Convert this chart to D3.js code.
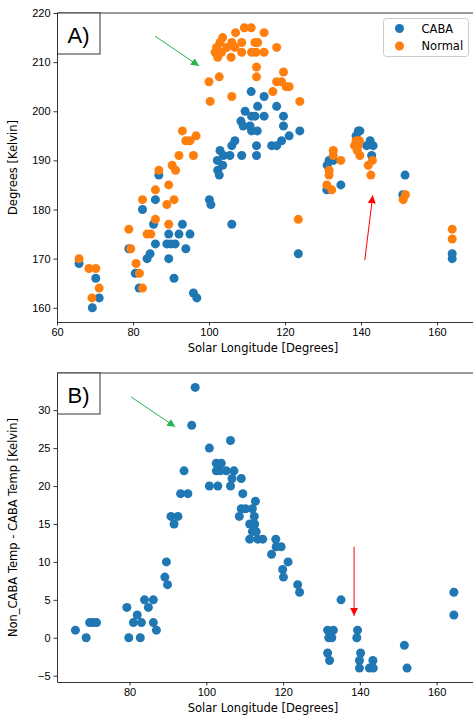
<!DOCTYPE html>
<html>
<head>
<meta charset="utf-8">
<script src="https://cdn.jsdelivr.net/npm/d3@7"></script>
<style>
  body { margin: 0; background: #fff; }
  svg { font-family: "DejaVu Sans", sans-serif; }
  .tick text { font-size: 11px; fill: #000; }
  .tick line, .domain { stroke: #000; stroke-width: 0.8; }
</style>
</head>
<body>
<svg id="chart" width="473" height="720"></svg>
<script>
// solar longitude / temperature pairs
const cabaPoints = [
  [65.8,169],[70.2,166],[69.3,160],[71.1,162],[78.9,172],[80.6,167],[81.6,164],[82.5,180],[83.7,170],[84.5,171],
  [85.9,173],[85.4,177],[85.9,182],[86.8,187],[88.9,173],[90.0,173],[91.1,173],[89.4,175],[89.4,170],[92.1,175],
  [93.0,177],[93.9,172],[95.0,175],[90.8,166],[95.9,163],[96.8,162],[100.1,182],[100.5,181],
  [111.1,204],[114.5,203],[112.8,201],[117.8,201],[109.5,200],[111.2,199],[112.1,199],[114.5,199],[119.6,199],
  [108.4,198],[109.0,197],[110.8,197],[119.6,197],[111.2,196],[112.7,196],[123.9,196],[121.1,195],[119.1,194],
  [116.5,193],[117.8,193],[112.5,193],[106.8,194],[106.0,193],[102.9,192],[103.8,191],[105.5,191],[108.6,191],
  [112.5,191],[102.2,190],[103.6,189],[102.3,188],[102.7,187],[106.0,177],[123.5,171],
  [139.3,196],[139.7,196],[138.7,195],[142.4,194],[141.5,193],[143.2,193],[142.8,191],[131.6,190],[132.7,190],
  [131.1,189],[131.0,184],[134.7,185],[151.6,187],[151.0,183],[164.0,171],[164.0,170]
];
const normalPoints = [
  [65.8,170],[68.4,168],[70.2,168],[71.1,164],[69.2,162],[78.9,176],[79.4,172],[80.8,169],[81.7,167],[82.5,164],
  [82.5,182],[83.7,175],[84.7,175],[85.9,178],[85.9,184],[86.8,188],[88.9,181],[89.4,177],[89.4,185],[90.8,182],
  [90.3,189],[91.2,188],[93.0,196],[93.9,194],[95.0,194],[96.6,195],[92.1,191],[95.9,191],[100.0,206],[100.3,202],
  [103.6,215],[107.0,216],[109.3,217],[111.1,217],[114.5,216],[102.9,214],[106.0,214],[108.6,214],[112.1,214],
  [112.8,214],[102.0,213],[104.7,213],[106.8,213],[117.8,213],[101.6,212],[103.3,212],[108.6,212],[111.2,212],
  [112.4,212],[114.5,212],[102.3,211],[105.8,211],[112.5,209],[112.5,207],[119.6,208],[102.7,207],[117.8,206],
  [119.1,206],[116.8,204],[120.3,205],[121.1,205],[106.0,203],[123.9,202],[123.5,178],
  [138.7,194],[139.6,194],[138.3,193],[139.3,193],[139.0,192],[139.7,191],[141.9,189],[143.0,190],[142.6,187],
  [132.7,192],[132.7,191],[134.7,190],[131.6,188],[131.6,187],[131.0,185],[132.3,184],[151.7,183],[151.1,182],
  [164.0,176],[164.0,174]
];
const diffPoints = [
  [65.9,1],[68.7,0],[69.6,2],[70.4,2],[71.4,2],[79.3,4],[79.8,0],[81.0,2],[82.0,3],[83.1,2],[82.8,0],[83.9,5],
  [84.9,4],[86.2,5],[86.2,2],[87.0,1],[89.2,8],[89.6,10],[89.9,7],[90.8,16],[92.6,16],[91.6,15],[93.3,19],
  [95.2,19],[94.2,22],[96.2,28],[97.1,33],[100.8,25],[100.8,20],[103.0,20],[102.6,23],[103.9,23],[102.6,22],
  [103.6,22],[105.2,22],[107.2,22],[106.3,26],[106.3,20],[106.7,21],[109.1,21],[109.5,19],[112.8,18],[109.1,17],
  [110.2,17],[112.0,17],[108.6,16],[112.5,16],[111.3,15],[112.6,15],[112.0,14],[113.0,14],[111.3,13],[113.4,13],
  [114.7,13],[118.1,13],[118.2,12],[119.5,12],[117.0,11],[121.3,10],[119.9,9],[120.1,8],[123.8,7],[124.3,6],
  [131.6,1],[133.1,1],[131.9,0],[132.7,0],[131.6,-2],[132.1,-3],[135.1,5],[139.4,1],[139.2,0],[140.2,-2],
  [139.9,-3],[139.9,-4],[142.5,-4],[143.5,-4],[143.4,-3],[151.6,-1],[152.3,-4],[164.5,6],[164.5,3]
];
const xTicksTop = [60, 80, 100, 120, 140, 160];
const xTicksBottom = [80, 100, 120, 140, 160];
const yTicksTop = [160, 170, 180, 190, 200, 210, 220];
const yTicksBottom = [-5, 0, 5, 10, 15, 20, 25, 30];
const seriesNames = ["CABA", "Normal"];
const seriesColors = ["#1f77b4", "#ff7f0e"];

const svg = d3.select("#chart");

const defs = svg.append("defs");
[["head-green", "#2bb44e"], ["head-red", "#ff0000"]].forEach(([id, c]) => {
  defs.append("marker")
    .attr("id", id)
    .attr("viewBox", "0 0 10 10")
    .attr("refX", 10).attr("refY", 5)
    .attr("markerWidth", 8).attr("markerHeight", 8)
    .attr("markerUnits", "userSpaceOnUse")
    .attr("orient", "auto")
    .append("path")
    .attr("d", "M0,0 L10,5 L0,10 z")
    .attr("fill", c);
});

function panel(opt) {
  const x = d3.scaleLinear().domain(opt.xDomain).range([57, 475]);
  const y = d3.scaleLinear().domain(opt.yDomain).range([opt.bottom, opt.top]);
  const g = svg.append("g");

  g.append("line").attr("x1", 57).attr("x2", 475).attr("y1", opt.top).attr("y2", opt.top)
    .attr("stroke", "#000").attr("stroke-width", 0.8);

  g.append("g")
    .attr("transform", `translate(0,${opt.bottom})`)
    .call(d3.axisBottom(x).tickValues(opt.xTicks).tickSize(3.5).tickPadding(3).tickSizeOuter(0));
  g.append("g")
    .attr("transform", "translate(57,0)")
    .call(d3.axisLeft(y).tickValues(opt.yTicks).tickSize(3.5).tickPadding(3).tickSizeOuter(0));

  g.append("text")
    .attr("x", 263).attr("y", opt.bottom + 30)
    .attr("text-anchor", "middle").attr("font-size", 11.5)
    .text("Solar Longitude [Degrees]");
  g.append("text")
    .attr("transform", `translate(17,${(opt.top + opt.bottom) / 2}) rotate(-90)`)
    .attr("text-anchor", "middle").attr("font-size", 11.5)
    .text(opt.yLabel);

  opt.series.forEach(s => {
    g.append("g").selectAll("circle")
      .data(s.data)
      .join("circle")
      .attr("cx", d => x(d[0]))
      .attr("cy", d => y(d[1]))
      .attr("r", 4.5)
      .attr("fill", s.color);
  });

  opt.arrows.forEach(a => {
    g.append("line")
      .attr("x1", x(a[0])).attr("y1", y(a[1]))
      .attr("x2", x(a[2])).attr("y2", y(a[3]))
      .attr("stroke", a[4]).attr("stroke-width", 1)
      .attr("marker-end", `url(#${a[5]})`);
  });

  // panel label box
  g.append("rect")
    .attr("x", 57.5).attr("y", opt.top)
    .attr("width", 42.5).attr("height", 41)
    .attr("fill", "#fff").attr("stroke", "#333").attr("stroke-width", 1);
  g.append("text")
    .attr("x", 78.5).attr("y", opt.top + 30)
    .attr("text-anchor", "middle").attr("font-size", 22)
    .attr("font-family", "Liberation Sans, Arial, sans-serif")
    .text(opt.label);
  return g;
}

panel({
  top: 13, bottom: 322,
  xDomain: [60, 170], yDomain: [157.1, 220],
  xTicks: xTicksTop, yTicks: yTicksTop,
  yLabel: "Degrees [Kelvin]", label: "A)",
  series: [
    { data: cabaPoints, color: seriesColors[0] },
    { data: normalPoints, color: seriesColors[1] }
  ],
  arrows: [
    [85.8, 215.3, 97.4, 209.2, "#2bb44e", "head-green"],
    [141.0, 169.7, 143.1, 182.9, "#ff0000", "head-red"]
  ]
});

panel({
  top: 373, bottom: 682,
  xDomain: [61.1, 170], yDomain: [-5.83, 34.9],
  xTicks: xTicksBottom, yTicks: yTicksBottom,
  yLabel: "Non_CABA Temp - CABA Temp [Kelvin]", label: "B)",
  series: [{ data: diffPoints, color: seriesColors[0] }],
  arrows: [
    [80.4, 31.75, 91.9, 27.8, "#2bb44e", "head-green"],
    [138.5, 12.0, 138.5, 2.9, "#ff0000", "head-red"]
  ]
});

// legend
const legend = svg.append("g").attr("transform", "translate(383.5,18.5)");
legend.append("rect")
  .attr("width", 85).attr("height", 38).attr("rx", 3)
  .attr("fill", "#fff").attr("fill-opacity", 0.8)
  .attr("stroke", "#ccc").attr("stroke-width", 1);
seriesNames.forEach((name, i) => {
  legend.append("circle")
    .attr("cx", 16).attr("cy", 10 + i * 17.5).attr("r", 4.5)
    .attr("fill", seriesColors[i]);
  legend.append("text")
    .attr("x", 38).attr("y", 14 + i * 17.5)
    .attr("font-size", 11.5)
    .text(name);
});
</script>
</body>
</html>
